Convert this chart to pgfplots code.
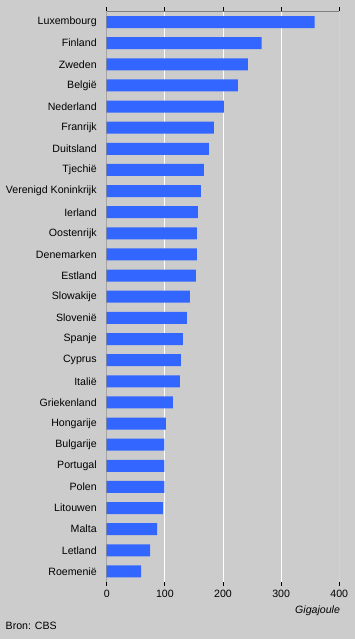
\documentclass[border=0pt]{standalone}
\usepackage{pgfplots}
\pgfplotsset{compat=1.18}
\usepackage{fontspec}
\setmainfont{Liberation Sans}
\definecolor{bg}{HTML}{CCCCCC}
\definecolor{barblue}{HTML}{3366FF}
\definecolor{frame}{HTML}{808080}
\begin{document}
\begin{tikzpicture}[x=1pt,y=1pt]
\fill[bg] (0,0) rectangle (355,639);
\begin{axis}[
  at={(106.7pt,57pt)}, anchor=south west,
  scale only axis, width=232.6pt, height=570.5pt,
  xbar, bar width=12pt,
  xmin=0, xmax=400, ymin=-0.5, ymax=26.5,
  xtick={0,100,200,300,400},
  ytick={0,...,26},
  yticklabels={Roemenië,Letland,Malta,Litouwen,Polen,Portugal,Bulgarije,Hongarije,Griekenland,Italië,Cyprus,Spanje,Slovenië,Slowakije,Estland,Denemarken,Oostenrijk,Ierland,Verenigd Koninkrijk,Tjechië,Duitsland,Franrijk,Nederland,België,Zweden,Finland,Luxembourg},
  /pgf/number format/assume math mode=true,
  ticklabel style={font=\fontsize{10.6}{12}\selectfont},
  y tick label style={xshift=-2.5pt},
  x tick label style={yshift=-1pt},
  xmajorgrids, grid style={white, line width=0.8pt},
  axis line style={draw=none},
  major tick length=4pt,
  xtick align=outside, ytick style={draw=none},
  xtick style={black, line width=0.8pt},
  axis on top=false,
]
\addplot[fill=barblue, draw=none] coordinates {
(59,0) (74.5,1) (86.5,2) (96.7,3) (99,4) (99,5) (99,6) (101.8,7) (113.8,8) (125.9,9) (127.6,10) (131,11) (137.9,12) (143,13) (153.3,14) (155,15) (155,16) (156.7,17) (161.9,18) (167,19) (175.6,20) (184.2,21) (201.4,22) (225.4,23) (242.6,24) (266.6,25) (357.6,26)};
\draw[frame, line width=0.9pt] (rel axis cs:0,1) -- (rel axis cs:1,1) -- (rel axis cs:1,0);
\draw[black, line width=0.9pt] (rel axis cs:0,1) -- (rel axis cs:0,0) -- (rel axis cs:1,0);
\end{axis}
\node[anchor=east, font=\fontsize{10.6}{12}\selectfont\itshape] at (343.5,28) {Gigajoule};
\node[anchor=west, inner sep=0pt, font=\fontsize{10.6}{12}\selectfont] at (5.5,13) {Bron: CBS};
\end{tikzpicture}
\end{document}
